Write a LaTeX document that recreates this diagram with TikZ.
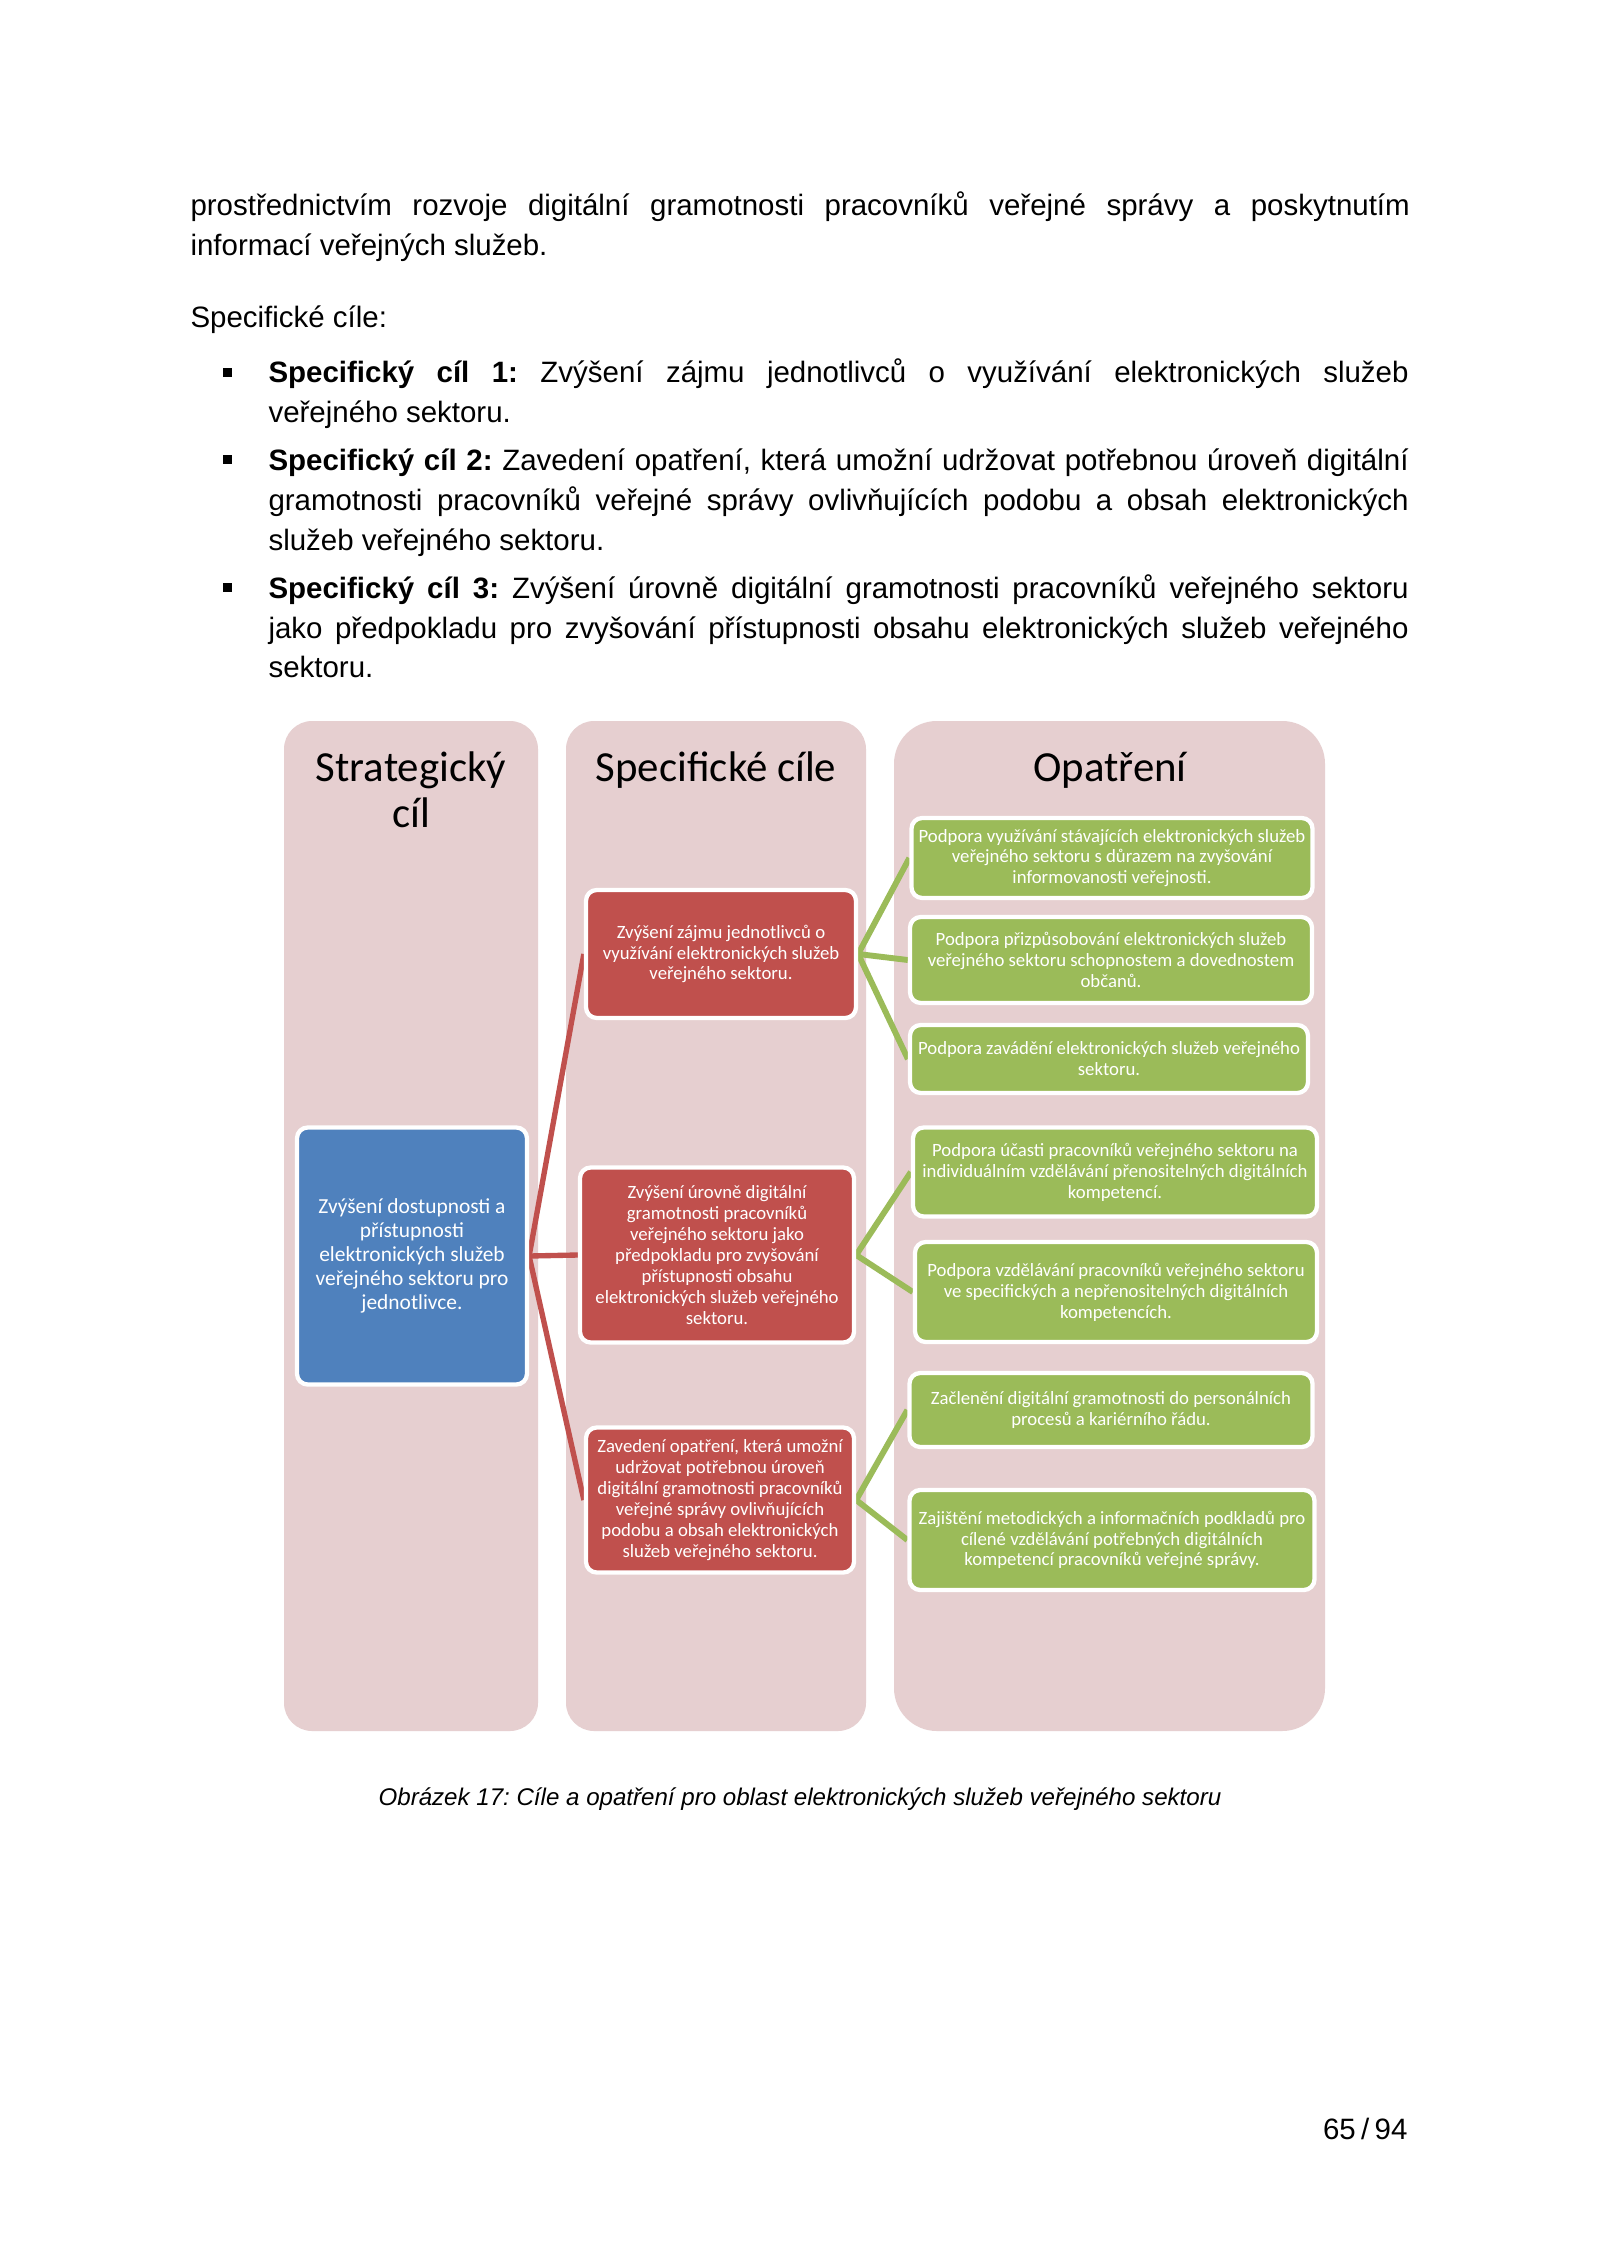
\documentclass[tikz,border=0pt]{standalone}
\usepackage{fontspec}
\setmainfont{Liberation Sans}
\newfontfamily\carlito{Carlito}
\usepackage{xcolor}
\definecolor{smpink}{RGB}{230,207,208}
\definecolor{smblue}{RGB}{79,129,189}
\definecolor{smred}{RGB}{192,80,77}
\definecolor{smgreen}{RGB}{155,187,89}
\usepackage{tikz}
\newlength\px
\setlength\px{0.013125cm}
\pgfdeclarelayer{background}
\pgfsetlayers{background,main}
\tikzset{
  body/.style={anchor=base west, inner sep=0pt, font=\fontsize{11}{13}\selectfont},
  head/.style={anchor=base, inner sep=0pt, font=\carlito\fontsize{16}{17}\selectfont},
  column/.style={fill=smpink},
  card/.style={draw=white, line width=1.6pt, rounded corners=4pt, inner sep=1pt,
    align=center, text=white, font=\carlito\fontsize{7}{7.8}\selectfont},
  goal/.style={card, fill=smblue, font=\carlito\fontsize{8}{8.9}\selectfont},
  aim/.style={card, fill=smred},
  measure/.style={card, fill=smgreen},
  redlink/.style={smred, line width=2pt},
  greenlink/.style={smgreen, line width=2.2pt},
}
\newcommand{\jrow}[2]{\makebox[#1][s]{#2}}
\frenchspacing

\begin{document}
\begin{tikzpicture}[x=0.013125cm, y=-0.013125cm]
  % page
  \begin{pgfonlayer}{background}
    \fill[white] (0,0) rectangle (1600,2262);
    % columns
    \fill[column, rounded corners=10.5pt] (284,721) rectangle (538,1731);
    \fill[column, rounded corners=10.5pt] (566,721) rectangle (866,1731);
    \fill[column, rounded corners=16pt] (894,721) rectangle (1325,1731);
  \end{pgfonlayer}

  % text above the figure
  \node[body] (para1) at (190,216)
       {\jrow{16cm}{prostřednictvím rozvoje digitální gramotnosti pracovníků veřejné správy a poskytnutím}};
  \node[body] (para2) at (190,256) {informací veřejných služeb.};
  \node[body] (spec) at (190,327) {Specifické cíle:};

  % bullets
  \fill (223,368) rectangle (232,377);
  \fill (223,455) rectangle (232,464);
  \fill (223,583) rectangle (232,592);
  \node[body] (b1a) at (268,383)
       {\jrow{14.96cm}{\textbf{Specifický cíl 1:} Zvýšení zájmu jednotlivců o využívání elektronických služeb}};
  \node[body] (b1b) at (268,423) {veřejného sektoru.};
  \node[body] (b2a) at (268,470)
       {\jrow{14.96cm}{\textbf{Specifický cíl 2:} Zavedení opatření, která umožní udržovat potřebnou úroveň digitální}};
  \node[body] (b2b) at (268,510)
       {\jrow{14.96cm}{gramotnosti pracovníků veřejné správy ovlivňujících podobu a obsah elektronických}};
  \node[body] (b2c) at (268,550) {služeb veřejného sektoru.};
  \node[body] (b3a) at (268,598)
       {\jrow{14.96cm}{\textbf{Specifický cíl 3:} Zvýšení úrovně digitální gramotnosti pracovníků veřejného sektoru}};
  \node[body] (b3b) at (268,638)
       {\jrow{14.96cm}{jako předpokladu pro zvyšování přístupnosti obsahu elektronických služeb veřejného}};
  \node[body] (b3c) at (268,677) {sektoru.};

  % column headings
  \node[head] (hstrat) at (411,781) {Strategický};
  \node[head] (hstratb) at (411,827) {cíl};
  \node[head] (hspec) at (716,781) {Specifické cíle};
  \node[head] (hopat) at (1110,781) {Opatření};

  % strategic goal
  \node[goal, minimum width=230*\px, minimum height=257*\px] (strat) at (412,1256)
       {Zvýšení dostupnosti a\\přístupnosti\\elektronických služeb\\veřejného sektoru pro\\jednotlivce.};

  % specific goals
  \node[aim, minimum width=270*\px, minimum height=128*\px] (sc1) at (721,954)
       {Zvýšení zájmu jednotlivců o\\využívání elektronických služeb\\veřejného sektoru.};
  \node[aim, minimum width=274*\px, minimum height=175*\px] (sc2) at (717,1255)
       {Zvýšení úrovně digitální\\gramotnosti pracovníků\\veřejného sektoru jako\\předpokladu pro zvyšování\\přístupnosti obsahu\\elektronických služeb veřejného\\sektoru.};
  \node[aim, minimum width=268*\px, minimum height=145*\px] (sc3) at (720,1500)
       {Zavedení opatření, která umožní\\udržovat potřebnou úroveň\\digitální gramotnosti pracovníků\\veřejné správy ovlivňujících\\podobu a obsah elektronických\\služeb veřejného sektoru.};

  % measures
  \node[measure, minimum width=401*\px, minimum height=80*\px] (op1) at (1112,858)
       {Podpora využívání stávajících elektronických služeb\\veřejného sektoru s důrazem na zvyšování\\informovanosti veřejnosti.};
  \node[measure, minimum width=402*\px, minimum height=86*\px] (op2) at (1111,960)
       {Podpora přizpůsobování elektronických služeb\\veřejného sektoru schopnostem a dovednostem\\občanů.};
  \node[measure, minimum width=398*\px, minimum height=68*\px] (op3) at (1109,1059)
       {Podpora zavádění elektronických služeb veřejného\\sektoru.};
  \node[measure, minimum width=404*\px, minimum height=89*\px] (op4) at (1115,1172)
       {Podpora účasti pracovníků veřejného sektoru na\\individuálním vzdělávání přenositelných digitálních\\kompetencí.};
  \node[measure, minimum width=402*\px, minimum height=100*\px] (op5) at (1116,1292)
       {Podpora vzdělávání pracovníků veřejného sektoru\\ve specifických a nepřenositelných digitálních\\kompetencích.};
  \node[measure, minimum width=403*\px, minimum height=74*\px] (op6) at (1111,1410)
       {Začlenění digitální gramotnosti do personálních\\procesů a kariérního řádu.};
  \node[measure, minimum width=405*\px, minimum height=100*\px] (op7) at (1112,1540)
       {Zajištění metodických a informačních podkladů pro\\cílené vzdělávání potřebných digitálních\\kompetencí pracovníků veřejné správy.};

  % links
  \begin{pgfonlayer}{background}
    \draw[redlink] (strat.east) -- (sc1.west);
    \draw[redlink] (strat.east) -- (sc2.west);
    \draw[redlink] (strat.east) -- (sc3.west);
    \draw[greenlink] (sc1.east) -- (op1.west);
    \draw[greenlink] (sc1.east) -- (op2.west);
    \draw[greenlink] (sc1.east) -- (op3.west);
    \draw[greenlink] (sc2.east) -- (op4.west);
    \draw[greenlink] (sc2.east) -- (op5.west);
    \draw[greenlink] (sc3.east) -- (op6.west);
    \draw[greenlink] (sc3.east) -- (op7.west);
  \end{pgfonlayer}

  % caption and page number
  \node[anchor=base, inner sep=0pt, font=\itshape\fontsize{9}{11}\selectfont] (caption) at (800,1805)
       {Obrázek 17: Cíle a opatření pro oblast elektronických služeb veřejného sektoru};
  \node[anchor=base east, inner sep=0pt, font=\fontsize{11}{13}\selectfont] (pagenum) at (1408,2139)
       {65\kern2pt/\kern2pt94};
\end{tikzpicture}
\end{document}
